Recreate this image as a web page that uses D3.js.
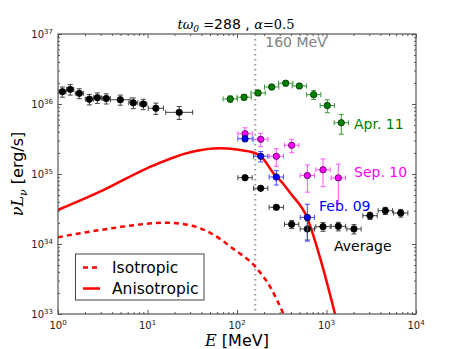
<!DOCTYPE html>
<html>
  <head>
    <meta charset="utf-8">
    <title></title>
    <style>
      body { margin: 0; background: #fff; }
      text { font-family: "DejaVu Sans", sans-serif; }
      .math { font-family: "DejaVu Serif", serif; font-style: italic; }
    </style>
  </head>
  <body>
    <script src="https://cdn.jsdelivr.net/npm/d3@7"></script>
    <script>
      // average spectrum, low energy part
      var avgLowE = [1.12, 1.37, 1.73, 2.24, 2.75, 3.46, 4.97, 6.94, 8.98, 12.4, 22.6];
      var avgLowL = [1.5e36, 1.62e36, 1.42e36, 1.17e36, 1.23e36, 1.2e36, 1.15e36, 1.04e36, 1.0e36, 8.7e35, 7.6e35];
      var avgLowErr = [2.5e35, 2.8e35, 2.3e35, 2.0e35, 2.1e35, 2.0e35, 1.9e35, 1.8e35, 1.7e35, 1.6e35, 1.6e35];
      var avgLowBin = [0.04, 0.04, 0.045, 0.045, 0.045, 0.045, 0.11, 0.05, 0.04, 0.085, 0.15]; // dex

      // average spectrum, high energy part
      var avgHighE = [123, 184, 275, 408, 611, 914, 1355, 2028, 3062, 4540, 6750];
      var avgHighL = [8.86e34, 6.25e34, 3.34e34, 1.91e34, 1.64e34, 1.77e34, 1.79e34, 1.64e34, 2.54e34, 2.99e34, 2.77e34];
      var avgHighErr = [4e33, 3e33, 2.5e33, 2.5e33, 5e33, 2.5e33, 2.5e33, 2.5e33, 3e33, 3.5e33, 3.5e33];

      // flares
      var aprE = [84, 120, 172, 244, 350, 497, 719, 1021, 1463];
      var aprL = [1.18e36, 1.25e36, 1.44e36, 1.75e36, 1.98e36, 1.81e36, 1.36e36, 9.5e35, 5.4e35];
      var aprErr = [1.2e35, 1.2e35, 1.3e35, 1.5e35, 1.6e35, 1.5e35, 2e35, 2e35, 1.7e35];

      var sepE = [123, 184, 275, 408, 611, 914, 1355];
      var sepL = [3.77e35, 3.13e35, 1.79e35, 2.57e35, 9.5e34, 1.15e35, 8.8e34];
      var sepErr = [8e34, 6.8e34, 5e34, 5.6e34, 4e34, 4.9e34, 5e34];

      var febE = [123, 184, 275, 611];
      var febL = [3.19e35, 1.79e35, 9.06e34, 2.4e34];
      var febErr = [3e34, 3e34, 2.1e34, 1.3e34];

      var highBin = 0.08; // dex, half width of the flare bins

      // model curves (log10 E, log10 nuL)
      var anisoLogE = [0, 0.5, 1.0, 1.5, 1.8, 2.0, 2.2, 2.265, 2.44, 2.48, 2.6, 2.779, 2.946, 3.095];
      var anisoLogL = [34.486, 34.765, 35.085, 35.318, 35.368, 35.35, 35.30, 35.253, 34.96, 34.914, 34.72, 34.39, 33.724, 33.0];
      var isoLogE = [0, 0.3, 0.656, 1.0, 1.2, 1.5, 1.7, 1.96, 2.204, 2.369, 2.52];
      var isoLogL = [34.096, 34.165, 34.235, 34.29, 34.305, 34.26, 34.16, 33.93, 33.676, 33.39, 33.0];

      var cutE = 160;
      var xTicks = [1, 10, 100, 1000, 10000];
      var yTicks = [1e33, 1e34, 1e35, 1e36, 1e37];

      var width = 463, height = 349;
      var margin = { top: 34, right: 47, bottom: 35, left: 58 };

      var svg = d3.select('body').append('svg')
        .attr('width', width)
        .attr('height', height);

      var x = d3.scaleLog().domain([1, 1e4]).range([margin.left, width - margin.right]);
      var y = d3.scaleLog().domain([1e33, 1e37]).range([height - margin.bottom, margin.top]);

      svg.append('clipPath').attr('id', 'clip')
        .append('rect')
        .attr('x', x.range()[0]).attr('y', y.range()[1])
        .attr('width', x.range()[1] - x.range()[0])
        .attr('height', y.range()[0] - y.range()[1]);

      // minor tick values
      function minors(lo, hi) {
        var out = [];
        for (var p = lo; p < hi; p++) {
          for (var m = 2; m < 10; m++) out.push(m * Math.pow(10, p));
        }
        return out;
      }
      var xMinor = minors(0, 4), yMinor = minors(33, 37);

      function drawAxis(axisFn, scale, vals, size, tr) {
        var g = svg.append('g').attr('transform', tr)
          .call(axisFn(scale).tickValues(vals).tickSize(size).tickFormat(''));
        g.select('.domain').remove();
        g.selectAll('line').attr('stroke', '#555');
      }
      var bx = 'translate(0,' + y.range()[0] + ')', tx = 'translate(0,' + y.range()[1] + ')';
      var lx = 'translate(' + x.range()[0] + ',0)', rx = 'translate(' + x.range()[1] + ',0)';
      drawAxis(d3.axisBottom, x, xTicks, -4, bx);
      drawAxis(d3.axisBottom, x, xMinor, -2, bx);
      drawAxis(d3.axisTop, x, xTicks, -4, tx);
      drawAxis(d3.axisTop, x, xMinor, -2, tx);
      drawAxis(d3.axisLeft, y, yTicks, -4, lx);
      drawAxis(d3.axisLeft, y, yMinor, -2, lx);
      drawAxis(d3.axisRight, y, yTicks, -4, rx);
      drawAxis(d3.axisRight, y, yMinor, -2, rx);

      // tick labels 10^n
      xTicks.forEach(function(v) {
        var t = svg.append('text')
          .attr('x', x(v)).attr('y', y.range()[0] + 15)
          .attr('text-anchor', 'middle')
          .attr('font-size', 10).attr('fill', '#222');
        t.append('tspan').text('10');
        t.append('tspan').attr('dy', -4).attr('font-size', 7).text(Math.round(Math.log10(v)));
      });
      yTicks.forEach(function(v) {
        var t = svg.append('text')
          .attr('x', x.range()[0] - 5).attr('y', y(v) + 4)
          .attr('text-anchor', 'end')
          .attr('font-size', 10).attr('fill', '#222');
        t.append('tspan').text('10');
        t.append('tspan').attr('dy', -4).attr('font-size', 7).text(Math.round(Math.log10(v)));
      });

      var plot = svg.append('g').attr('clip-path', 'url(#clip)');

      // 160 MeV line
      plot.append('line')
        .attr('x1', x(cutE)).attr('x2', x(cutE))
        .attr('y1', y.range()[1]).attr('y2', y.range()[0])
        .attr('stroke', '#999').attr('stroke-width', 2)
        .attr('stroke-dasharray', '1.5,3.5');
      svg.append('text')
        .attr('x', x(cutE) + 10).attr('y', 47)
        .attr('font-size', 14).attr('fill', 'gray')
        .text('160 MeV');

      // model curves
      var line = d3.line()
        .x(function(d) { return x(Math.pow(10, d[0])); })
        .y(function(d) { return y(Math.pow(10, d[1])); })
        .curve(d3.curveMonotoneX);
      plot.append('path')
        .datum(d3.zip(isoLogE, isoLogL))
        .attr('d', line)
        .attr('fill', 'none').attr('stroke', 'red').attr('stroke-width', 2.5)
        .attr('stroke-dasharray', '5,4');
      plot.append('path')
        .datum(d3.zip(anisoLogE, anisoLogL))
        .attr('d', line)
        .attr('fill', 'none').attr('stroke', 'red').attr('stroke-width', 2.5);

      // points with error bars
      function series(E, L, err, bins, color, barColor, edge) {
        var data = E.map(function(e, i) {
          var b = Array.isArray(bins) ? bins[i] : bins;
          return { e: e, l: L[i], err: err[i], lo: e / Math.pow(10, b), hi: e * Math.pow(10, b) };
        });
        var g = plot.append('g');
        var pts = g.selectAll('g').data(data).enter().append('g');
        pts.append('line')
          .attr('x1', function(d) { return x(d.lo); })
          .attr('x2', function(d) { return x(d.hi); })
          .attr('y1', function(d) { return y(d.l); })
          .attr('y2', function(d) { return y(d.l); })
          .attr('stroke', barColor).attr('stroke-width', 1);
        pts.append('line')
          .attr('x1', function(d) { return x(d.e); })
          .attr('x2', function(d) { return x(d.e); })
          .attr('y1', function(d) { return y(d.l + d.err); })
          .attr('y2', function(d) { return y(Math.max(d.l - d.err, 1e32)); })
          .attr('stroke', barColor).attr('stroke-width', 1);
        // caps
        ['lo', 'hi'].forEach(function(k) {
          pts.append('line')
            .attr('x1', function(d) { return x(d[k]); })
            .attr('x2', function(d) { return x(d[k]); })
            .attr('y1', function(d) { return y(d.l) - 2.5; })
            .attr('y2', function(d) { return y(d.l) + 2.5; })
            .attr('stroke', barColor).attr('stroke-width', 1);
        });
        [1, -1].forEach(function(s) {
          pts.append('line')
            .attr('x1', function(d) { return x(d.e) - 2.5; })
            .attr('x2', function(d) { return x(d.e) + 2.5; })
            .attr('y1', function(d) { return y(d.l + s * d.err); })
            .attr('y2', function(d) { return y(d.l + s * d.err); })
            .attr('stroke', barColor).attr('stroke-width', 1);
        });
        pts.append('circle')
          .attr('cx', function(d) { return x(d.e); })
          .attr('cy', function(d) { return y(d.l); })
          .attr('r', 3.2)
          .attr('fill', color).attr('stroke', edge).attr('stroke-width', 0.8);
      }

      series(avgLowE, avgLowL, avgLowErr, avgLowBin, 'black', '#444', 'black');
      series(avgHighE, avgHighL, avgHighErr, highBin, 'black', '#444', 'black');
      series(sepE, sepL, sepErr, highBin, '#ff00ff', '#ff55ff', '#550055');
      series(febE, febL, febErr, highBin, '#0000ff', '#4444ff', '#000055');
      series(aprE, aprL, aprErr, highBin, '#008000', '#3a9a3a', '#003300');

      // flare labels
      var labels = [
        { t: 'Apr. 11', c: 'green', x: 354, y: 129 },
        { t: 'Sep. 10', c: '#ff00ff', x: 354, y: 177 },
        { t: 'Feb. 09', c: 'blue', x: 319, y: 211 },
        { t: 'Average', c: 'black', x: 334, y: 251 }
      ];
      svg.selectAll('.lab').data(labels).enter().append('text')
        .attr('class', 'lab')
        .attr('x', function(d) { return d.x; })
        .attr('y', function(d) { return d.y; })
        .attr('font-size', 14)
        .attr('fill', function(d) { return d.c; })
        .text(function(d) { return d.t; });

      // frame
      svg.append('rect')
        .attr('x', x.range()[0]).attr('y', y.range()[1])
        .attr('width', x.range()[1] - x.range()[0])
        .attr('height', y.range()[0] - y.range()[1])
        .attr('fill', 'none').attr('stroke', '#555').attr('stroke-width', 1.2);

      // legend
      var lg = svg.append('g');
      lg.append('rect')
        .attr('x', 75.5).attr('y', 254).attr('width', 128.5).attr('height', 46)
        .attr('fill', 'white').attr('stroke', '#444').attr('stroke-width', 1);
      [{ t: 'Isotropic', dash: '5,4', yy: 267.5 }, { t: 'Anisotropic', dash: null, yy: 288.5 }].forEach(function(d) {
        lg.append('line')
          .attr('x1', 83).attr('x2', 100).attr('y1', d.yy).attr('y2', d.yy)
          .attr('stroke', 'red').attr('stroke-width', 2.5)
          .attr('stroke-dasharray', d.dash);
        lg.append('text')
          .attr('x', 112).attr('y', d.yy + 5.5)
          .attr('font-size', 15.5)
          .text(d.t);
      });

      // title
      var tt = svg.append('text')
        .attr('x', 236).attr('y', 29)
        .attr('text-anchor', 'middle')
        .attr('font-size', 13);
      tt.append('tspan').attr('class', 'math').text('tω');
      tt.append('tspan').attr('class', 'math').attr('font-style', 'normal').attr('font-size', 9).attr('dy', 3).text('0');
      tt.append('tspan').attr('dy', -3).attr('font-family', 'DejaVu Serif').text(' =');
      tt.append('tspan').attr('font-size', 14).text('288 , ');
      tt.append('tspan').attr('class', 'math').text('α');
      tt.append('tspan').attr('font-family', 'DejaVu Serif').text('=0.5');

      // axis labels
      var xl = svg.append('text')
        .attr('x', 237).attr('y', 345.5)
        .attr('text-anchor', 'middle')
        .attr('font-size', 16);
      xl.append('tspan').attr('class', 'math').text('E ');
      xl.append('tspan').text('[MeV]');

      var yl = svg.append('text')
        .attr('transform', 'translate(23,' + (y.range()[0] + y.range()[1]) / 2 + ') rotate(-90)')
        .attr('text-anchor', 'middle')
        .attr('font-size', 16);
      yl.append('tspan').attr('class', 'math').text('νL');
      yl.append('tspan').attr('class', 'math').attr('font-size', 11).attr('dy', 4).text('ν');
      yl.append('tspan').attr('dy', -4).text(' [erg/s]');
    </script>
  </body>
</html>
